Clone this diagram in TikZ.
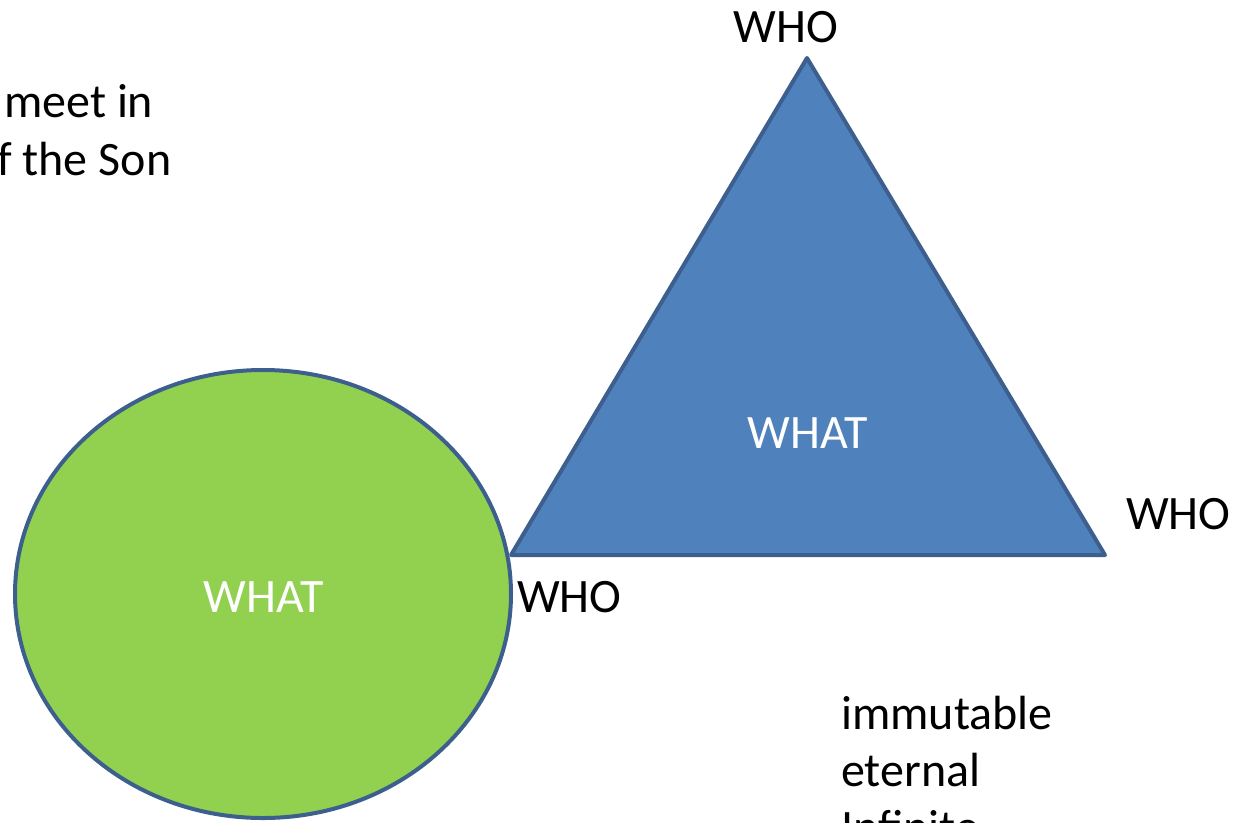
\documentclass[tikz,border=0pt]{standalone}
\usetikzlibrary{shapes.geometric}
\usepackage{fontspec}
\setmainfont{Carlito}
\definecolor{grn}{HTML}{92D050}
\definecolor{blu}{HTML}{4F81BD}
\definecolor{edge}{HTML}{3D5F8E}
\begin{document}
\begin{tikzpicture}[x=1pt,y=-1pt,
  txt/.style={inner sep=0pt,font=\fontsize{48}{57}\selectfont},
  wtxt/.style={txt,text=white},
  shp/.style={draw=edge,line width=4pt,line join=round}]
\useasboundingbox (0,0) rectangle (1249,822);
\clip (0,0) rectangle (1249,822);
% ellipse
\node[shp,fill=grn,ellipse,minimum width=496,minimum height=448,inner sep=0pt] (circ) at (263,594) {};
% triangle
\coordinate (apex) at (807,58);
\coordinate (bl) at (511,555);
\coordinate (br) at (1105,555);
\filldraw[shp,fill=blu] (apex) -- (bl) -- (br) -- cycle;
% labels
\node[wtxt] (what1) at (264,597) {WHAT};
\node[wtxt] (what2) at (808,433) {WHAT};
\node[txt,anchor=base] (whotop) at (786,42) {WHO};
\node[txt,anchor=base west] (whobl) at (517,612) {WHO};
\node[txt,anchor=base west] (whor) at (1126,529) {WHO};
\node[txt,anchor=base west] (t1) at (4,117) {meet in};
\node[txt,anchor=base west] (t2) at (-3,175) {f the Son};
\node[txt,anchor=base west] (l1) at (841,729) {immutable};
\node[txt,anchor=base west] (l2) at (841,786) {eternal};
\node[txt,anchor=base west] (l3) at (841,843) {Infinite};
\end{tikzpicture}
\end{document}
